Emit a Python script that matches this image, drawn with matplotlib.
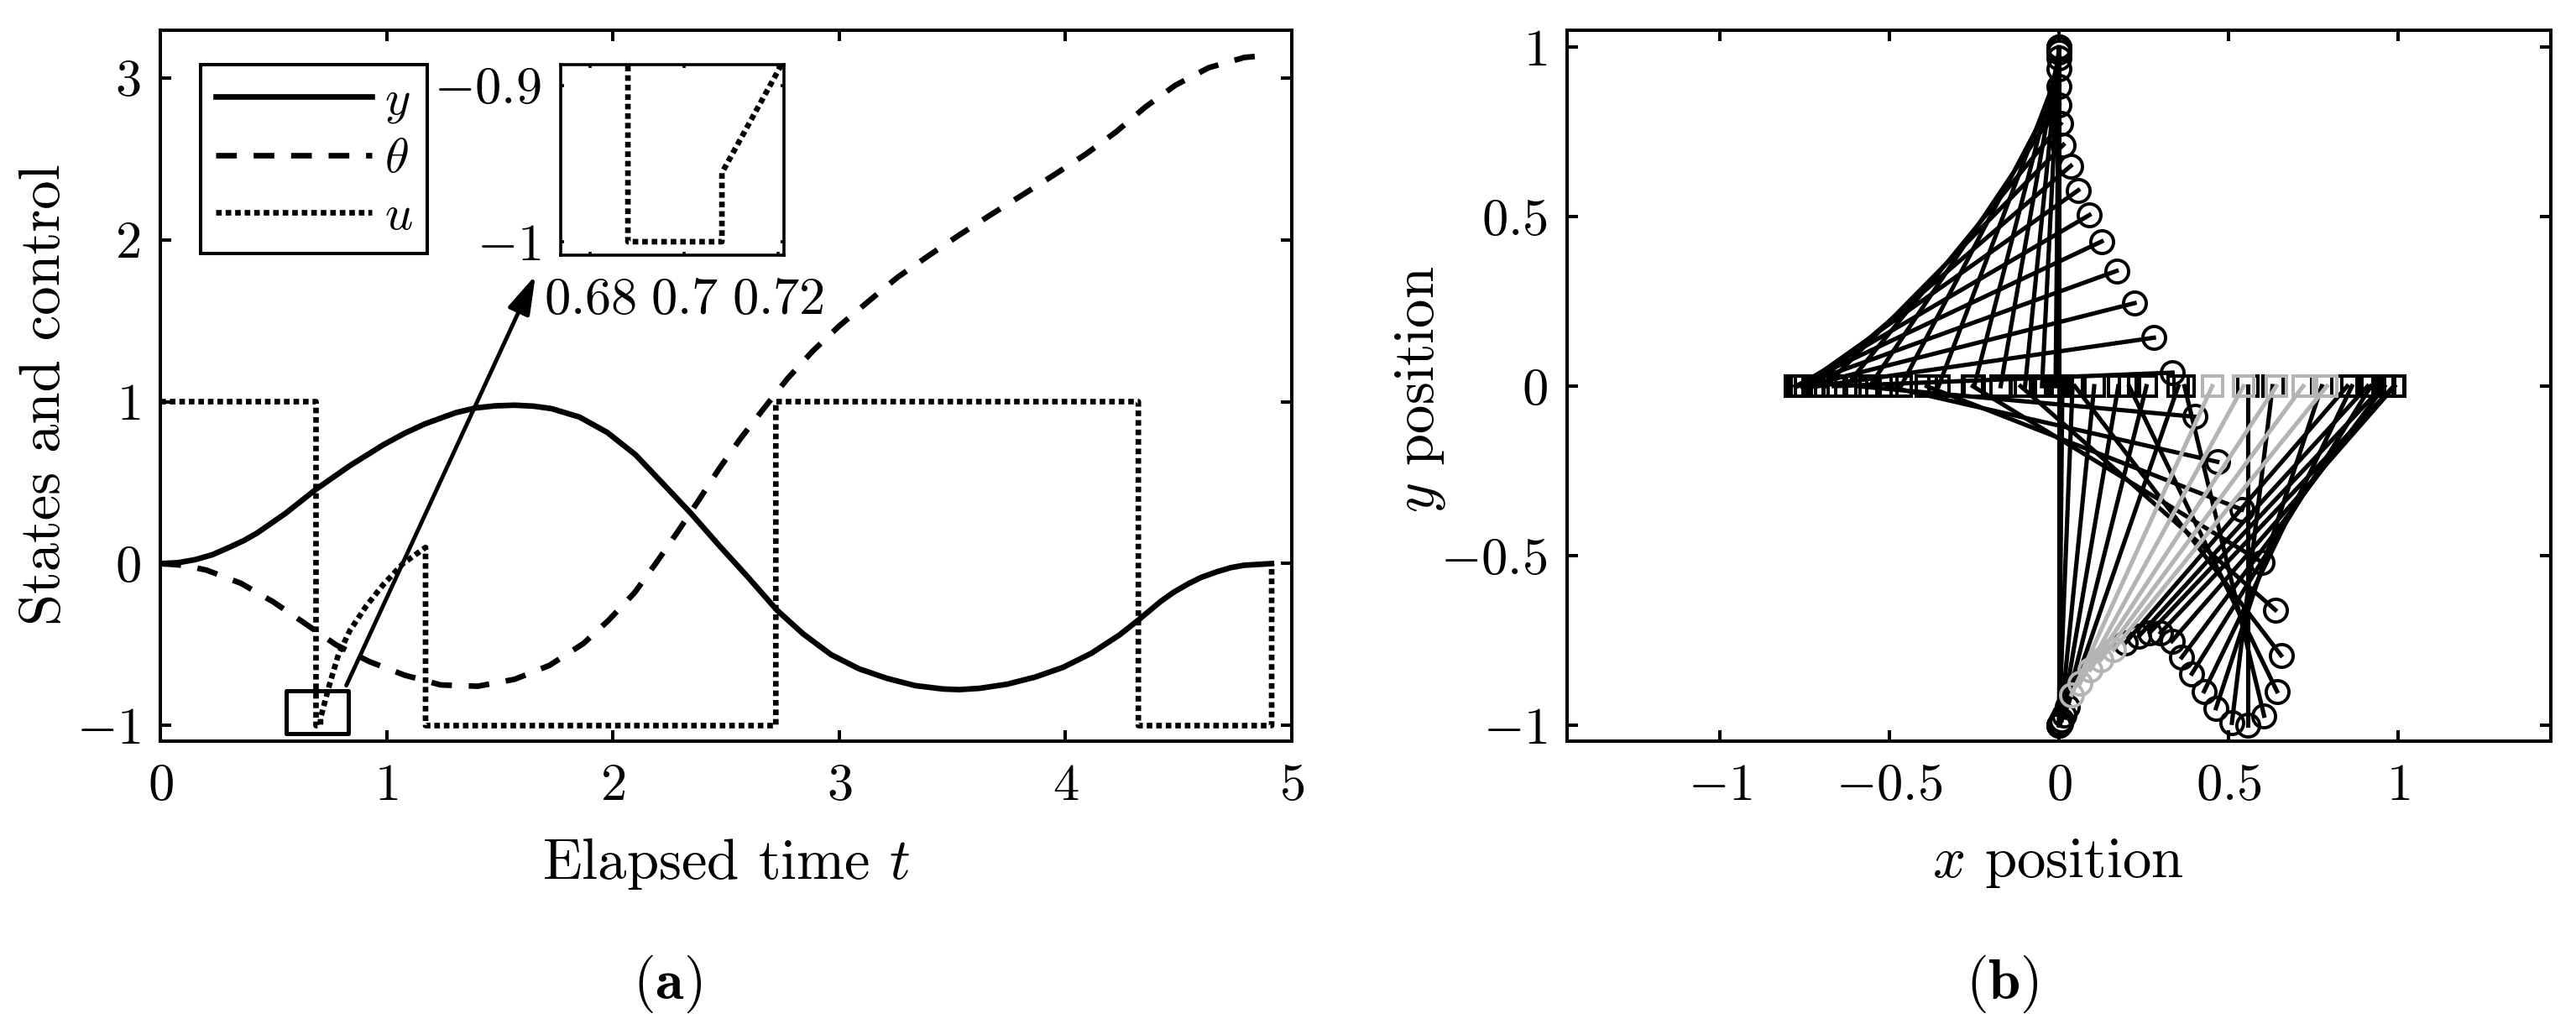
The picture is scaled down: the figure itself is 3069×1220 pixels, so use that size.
import numpy as np
import matplotlib
matplotlib.use('Agg')
import matplotlib.pyplot as plt
from matplotlib.patches import Rectangle

plt.rcParams['font.family'] = 'cmr10'
plt.rcParams['mathtext.fontset'] = 'cm'
plt.rcParams['axes.formatter.use_mathtext'] = True

FW, FH = 3069, 1220
FS = 45
FS_LABEL = 49.5
LW = 4.8
DASH = (3.7, 3.0)
DOT = (1.0, 0.7)
GRAY = '#b4b4b4'

# panel (a)
t_y = [0, .08, .156, .23, .304, .37, .429, .553, .689, .837, .985, 1.08, 1.17, 1.306, 1.394, 1.48, 1.566, 1.65,
       1.728, 1.852, 1.975, 2.10, 2.223, 2.345, 2.47, 2.594, 2.724, 2.84, 2.964, 3.087, 3.21, 3.335, 3.458,
       3.53, 3.62, 3.744, 3.867, 3.99, 4.115, 4.238, 4.325, 4.42, 4.48, 4.546, 4.6, 4.67, 4.73, 4.79, 4.91]
y_vals = [0, .006, .025, .055, .10, .143, .19, .31, .46, .604, .733, .805, .863, .932, .961, .974, .978, .972,
          .957, .905, .81, .672, .491, .31, .111, -.079, -.286, -.433, -.562, -.649, -.708, -.753, -.774,
          -.778, -.77, -.744, -.70, -.64, -.553, -.441, -.345, -.234, -.175, -.122, -.085, -.05, -.025, -.01, 0]

t_theta = [0, .1, .204, .357, .50, .637, .775, .924, 1.078, 1.239, 1.403, 1.566, 1.72, 1.87,
           1.98, 2.096, 2.193, 2.287, 2.379, 2.47, 2.566, 2.667, 2.772, 2.883, 3.0, 3.13, 3.26,
           3.394, 3.532, 3.67, 3.813, 3.953, 4.092, 4.225, 4.352, 4.484, 4.632, 4.79, 4.91]
theta_vals = [0, -.01, -.04, -.122, -.237, -.367, -.50, -.605, -.688, -.749, -.757, -.714, -.628, -.493,
              -.351, -.179, .008, .198, .391, .587, .776, .958, 1.143, 1.312, 1.467, 1.62, 1.77,
              1.90, 2.03, 2.154, 2.279, 2.403, 2.53, 2.667, 2.818, 2.952, 3.061, 3.125, 3.14]

t_u = [0, .688, .688, .708, .708, .721, .75, .787, .837, .911, .985, 1.072, 1.172, 1.172,
       2.72, 2.72, 4.322, 4.322, 4.911, 4.911]
u_vals = [1, 1, -1, -1, -.956, -.885, -.735, -.562, -.415, -.26, -.13, 0, .10, -1,
          -1, 1, 1, -1, -1, 0]

# panel (b), one entry per frame
cart_x = [0, .01, .04, .104, .175, .258, .352, .452, .544, .641, .72, .79, .85, .91, .955, .987,
          .99, .96, .92, .864, .775, .63, .558, .37, .207, .047, -.113, -.254, -.39, -.508, -.596,
          -.664, -.71, -.747, -.77, -.778, -.773, -.759, -.725, -.689, -.628, -.558, -.466, -.355,
          -.25, -.172, -.1, -.05, -.01, 0]
tip_x = [0, 0, 0, .004, .008, .015, .025, .037, .062, .092, .124, .161, .196, .236, .268, .30,
         .333, .362, .392, .428, .463, .51, .558, .605, .643, .655, .638, .60, .54, .467, .40,
         .335, .28, .223, .17, .126, .09, .057, .035, .013, .005, 0, 0, 0, 0, 0, 0, 0, 0, 0]
tip_y = [-1, -1, -.999, -.995, -.986, -.97, -.945, -.91, -.876, -.836, -.806, -.777, -.757, -.737,
         -.727, -.727, -.752, -.80, -.848, -.90, -.95, -.993, -1, -.972, -.90, -.794, -.66, -.52,
         -.364, -.223, -.09, .04, .143, .245, .34, .427, .505, .578, .65, .712, .774, .83, .885,
         .935, .968, .985, .995, .999, 1, 1]
gray_frames = [7, 8, 9, 10, 11]


def px_axes(fig, x0, y0, x1, y1):
    return fig.add_axes([x0 / FW, 1 - y1 / FH, (x1 - x0) / FW, (y1 - y0) / FH])


def style_axes(ax, lw=2.9, length=9.5):
    for s in ax.spines.values():
        s.set_linewidth(lw)
    ax.tick_params(direction='in', top=True, right=True, width=lw, length=length,
                   labelsize=FS)
    ax.tick_params(axis='x', pad=19)
    ax.tick_params(axis='y', pad=17)


def draw_frame(ax, i, color, z):
    ax.plot([cart_x[i], tip_x[i]], [0, tip_y[i]], color=color, lw=3.7, zorder=z)
    ax.plot(cart_x[i], 0, 's', mfc='none', mec=color, ms=17.5, mew=2.9, zorder=z)
    ax.plot(tip_x[i], tip_y[i], 'o', mfc='none', mec=color, ms=19.5, mew=2.8, zorder=z)


fig = plt.figure(figsize=(FW / 100, FH / 100), dpi=100)

# left panel
ax = px_axes(fig, 191, 36, 1539, 883)
style_axes(ax)
l_y, = ax.plot(t_y, y_vals, color='k', lw=LW, label='$y$')
l_th, = ax.plot(t_theta, theta_vals, color='k', lw=LW, dashes=DASH, label=r'$\theta$')
l_u, = ax.plot(t_u, u_vals, color='k', lw=LW, dashes=DOT, label='$u$')
ax.set_xlim(0, 5)
ax.set_ylim(-1.096, 3.293)
ax.set_xticks([0, 1, 2, 3, 4, 5], labels=['$0$', '$1$', '$2$', '$3$', '$4$', '$5$'])
ax.set_yticks([-1, 0, 1, 2, 3], labels=['$-1$', '$0$', '$1$', '$2$', '$3$'])
fig.text(865 / FW, 1 - 1029 / FH, r'Elapsed time $t$', fontsize=FS_LABEL, ha='center', va='center')
fig.text(53 / FW, 1 - 470 / FH, 'States and control', fontsize=FS_LABEL, ha='center', va='center',
         rotation=90)

leg = ax.legend(handles=[l_y, l_th, l_u], loc='upper left',
                bbox_to_anchor=(239 / FW, 1 - 77 / FH), bbox_transform=fig.transFigure,
                borderaxespad=0, fontsize=42, fancybox=False, framealpha=1, edgecolor='k',
                handlelength=3.2, handletextpad=0.25, labelspacing=0.27, borderpad=0.3)
leg.get_frame().set_linewidth(2.9)

ax.add_patch(Rectangle((.555, -1.049), .276, .266, fill=False, ec='k', lw=3.6, zorder=4,
                       joinstyle='round'))
ax.annotate('', xy=(1.658, 1.78), xytext=(.822, -.752),
            arrowprops=dict(arrowstyle='-|>,head_length=1.0,head_width=0.3', color='k', lw=3.5,
                            shrinkA=0, shrinkB=0, mutation_scale=28))

# inset
ins = px_axes(fig, 668, 77, 934, 304)
style_axes(ins, lw=2.6, length=3)
ins.plot(t_u, u_vals, color='k', lw=LW, dashes=DOT)
ins.set_xlim(.6737, .7212)
ins.set_ylim(-1.0086, -.8868)
ins.set_xticks([.68, .7, .72], labels=['$0.68$', '$0.7$', '$0.72$'])
ins.set_yticks([-1, -.9], labels=['$-1$', '$-0.9$'])

# right panel
bx = px_axes(fig, 1867, 36, 3039, 883)
style_axes(bx)
for i in range(len(cart_x)):
    if i not in gray_frames:
        draw_frame(bx, i, 'k', 2)
for i in gray_frames:
    draw_frame(bx, i, GRAY, 3)
bx.set_xlim(-1.4505, 1.4505)
bx.set_ylim(-1.047, 1.05)
bx.set_xticks([-1, -.5, 0, .5, 1], labels=['$-1$', '$-0.5$', '$0$', '$0.5$', '$1$'])
bx.set_yticks([-1, -.5, 0, .5, 1], labels=['$-1$', '$-0.5$', '$0$', '$0.5$', '$1$'])
fig.text(2452 / FW, 1 - 1029 / FH, r'$x$ position', fontsize=FS_LABEL, ha='center', va='center')
fig.text(1693 / FW, 1 - 464 / FH, r'$y$ position', fontsize=FS_LABEL, ha='center', va='center',
         rotation=90)

fig.text(795 / FW, 1 - 1172 / FH, r'($\mathbf{a}$)', fontsize=FS_LABEL, ha='center', va='center')
fig.text(2385 / FW, 1 - 1172 / FH, r'($\mathbf{b}$)', fontsize=FS_LABEL, ha='center', va='center')

fig.savefig('out.png', dpi=100)
plt.close(fig)
